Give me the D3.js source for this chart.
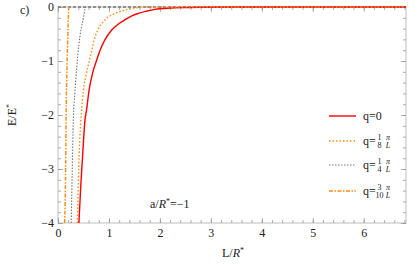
<!DOCTYPE html>
<html>
<head>
<meta charset="utf-8">
<script src="https://cdn.jsdelivr.net/npm/d3@7"></script>
<style>
  body { margin: 0; background: #fff; }
  svg text { font-family: "Liberation Serif", "DejaVu Serif", serif; }
</style>
</head>
<body>
<svg id="chart" width="415" height="271"></svg>
<script>
// L/R* range and ticks
const xMax = 6.83;
const xTicks = [0, 1, 2, 3, 4, 5, 6];
const yTicks = [0, -1, -2, -3, -4];

// q = 0 (red, solid)
const redL = [0.41, 0.45, 0.48, 0.53, 0.56, 0.61, 0.68, 0.76, 0.84, 0.92, 1.05, 1.18, 1.31, 1.44, 1.57, 1.75, 1.9, 2.2, 2.5, 2.8, 3.5, 4.5, 6.83];
const redE = [-4.0, -3.26, -2.8, -2.09, -1.91, -1.54, -1.22, -0.98, -0.77, -0.61, -0.43, -0.32, -0.24, -0.17, -0.12, -0.075, -0.045, -0.02, -0.01, -0.004, -0.001, 0, 0];

// q = 1/8 pi/L (orange, dotted)
const q8L = [0.38, 0.40, 0.43, 0.46, 0.50, 0.56, 0.62, 0.67, 0.71, 0.78, 0.92, 1.12, 1.3, 1.44, 1.6, 1.8, 6.83];
const q8E = [-4.0, -3.2, -2.4, -1.95, -1.54, -1.22, -0.98, -0.77, -0.61, -0.43, -0.24, -0.12, -0.06, -0.03, -0.01, 0, 0];

// q = 1/4 pi/L (gray, dotted)
const q4L = [0.26, 0.28, 0.30, 0.33, 0.37, 0.41, 0.45, 0.50, 0.53, 0.55];
const q4E = [-4.0, -3.0, -2.1, -1.6, -1.1, -0.7, -0.42, -0.2, -0.04, 0];

// q = 3/10 pi/L (orange, dash-dot)
const q10L = [0.13, 0.15, 0.16, 0.18, 0.20, 0.21];
const q10E = [-4.0, -3.0, -2.0, -1.0, -0.3, 0];

const legendLabels = [
  { num: null, den: null },
  { num: "1", den: "8" },
  { num: "1", den: "4" },
  { num: "3", den: "10" },
];

const svg = d3.select("#chart");
const mLeft = 58, mRight = 406, mTop = 7, mBottom = 223;
const serif = "'Liberation Serif', 'DejaVu Serif', serif";

const x = d3.scaleLinear().domain([0, xMax]).range([mLeft, mRight]);
const y = d3.scaleLinear().domain([-4, 0]).range([mBottom, mTop]);

const frameColor = "#c8c8c8";
const tickColor = "#999";

// frame
svg.append("rect")
  .attr("x", mLeft).attr("y", mTop)
  .attr("width", mRight - mLeft).attr("height", mBottom - mTop)
  .attr("fill", "none").attr("stroke", frameColor).attr("stroke-width", 1.2);

const minorX = d3.range(0, xMax, 0.2);
const minorY = d3.range(-4, 0.001, 0.2);

// helper to draw inward ticks
const drawAxis = (axis, tx, ty) => {
  const g = svg.append("g").attr("transform", `translate(${tx},${ty})`).call(axis);
  g.attr("font-family", serif);
  g.select(".domain").remove();
  g.selectAll(".tick line").attr("stroke", tickColor).attr("stroke-width", 0.8);
  g.selectAll("text").attr("font-size", 12).attr("fill", "#222");
  return g;
};

drawAxis(d3.axisBottom(x).tickValues(minorX).tickSize(-3).tickFormat(""), 0, mBottom);
drawAxis(d3.axisTop(x).tickValues(minorX).tickSize(-3).tickFormat(""), 0, mTop);
drawAxis(d3.axisLeft(y).tickValues(minorY).tickSize(-3).tickFormat(""), mLeft, 0);
drawAxis(d3.axisRight(y).tickValues(minorY).tickSize(-3).tickFormat(""), mRight, 0);

drawAxis(d3.axisBottom(x).tickValues(xTicks).tickSize(-5).tickPadding(5).tickFormat(d3.format("d")), 0, mBottom);
drawAxis(d3.axisTop(x).tickValues(xTicks).tickSize(-5).tickFormat(""), 0, mTop);
drawAxis(d3.axisLeft(y).tickValues(yTicks).tickSize(-5).tickPadding(4)
  .tickFormat(d => d === 0 ? "0" : "\u2212" + Math.abs(d)), mLeft, 0);
drawAxis(d3.axisRight(y).tickValues(yTicks).tickSize(-5).tickFormat(""), mRight, 0);

const line = d3.line().x(d => x(d[0])).y(d => y(d[1])).curve(d3.curveMonotoneX);
const toPts = (ls, es) => ls.map((l, i) => [l, es[i]]);

const plot = svg.append("g");
plot.append("clipPath").attr("id", "clip")
  .append("rect").attr("x", mLeft).attr("y", mTop - 2).attr("width", mRight - mLeft).attr("height", mBottom - mTop + 2);
const curves = plot.append("g").attr("clip-path", "url(#clip)");

// zero tails of the q>0 curves
const zeroLine = [[0, 0], [xMax, 0]];

const styles = [
  { color: "#ff0000", width: 1.4, dash: null },
  { color: "#ff8c1a", width: 1.4, dash: "1.5,2" },
  { color: "#777777", width: 1.1, dash: "1.5,1.5" },
  { color: "#ff8c1a", width: 1.5, dash: "4,1.5,1.5,1.5" },
];

curves.append("path").datum(zeroLine)
  .attr("d", d3.line().x(d => x(d[0])).y(d => y(d[1])))
  .attr("fill", "none").attr("stroke", styles[2].color)
  .attr("stroke-width", 1.3).attr("stroke-dasharray", "3,2");

const series = [toPts(redL, redE), toPts(q8L, q8E), toPts(q4L, q4E), toPts(q10L, q10E)];
series.forEach((pts, i) => {
  const s = styles[i];
  curves.append("path").datum(pts)
    .attr("d", line)
    .attr("fill", "none")
    .attr("stroke", s.color)
    .attr("stroke-width", s.width)
    .attr("stroke-dasharray", s.dash);
});

// legend
const legendY = [116, 141, 165, 191];
const txt = (g) => g.attr("font-family", serif).attr("fill", "#222");
legendY.forEach((ly, i) => {
  const s = styles[i];
  svg.append("line")
    .attr("x1", 329).attr("x2", 356).attr("y1", ly).attr("y2", ly)
    .attr("stroke", s.color).attr("stroke-width", s.width)
    .attr("stroke-dasharray", s.dash);
  const lab = legendLabels[i];
  if (lab.num === null) {
    svg.append("text").call(txt).attr("x", 363).attr("y", ly + 4)
      .attr("font-size", 12).text("q=0");
  } else {
    svg.append("text").call(txt).attr("x", 363).attr("y", ly + 4)
      .attr("font-size", 12).text("q=");
    const fx = 379.5;
    svg.append("text").call(txt).attr("x", fx).attr("y", ly - 1)
      .attr("text-anchor", "middle").attr("font-size", 8).text(lab.num);
    svg.append("text").call(txt).attr("x", fx).attr("y", ly + 7)
      .attr("text-anchor", "middle").attr("font-size", 8).text(lab.den);
    const px = 388;
    svg.append("text").call(txt).attr("x", px).attr("y", ly - 1)
      .attr("text-anchor", "middle").attr("font-size", 8).attr("font-style", "italic").text("\u03c0");
    svg.append("text").call(txt).attr("x", px).attr("y", ly + 7)
      .attr("text-anchor", "middle").attr("font-size", 8).attr("font-style", "italic").text("L");
  }
});

// annotation
const ann = svg.append("text").call(txt).attr("x", 150).attr("y", 208).attr("font-size", 12);
ann.append("tspan").text("a/");
ann.append("tspan").attr("font-style", "italic").text("R");
ann.append("tspan").attr("font-size", 8).attr("dy", -4).text("*");
ann.append("tspan").attr("dy", 4).text("=\u22121");

// axis labels
const xl = svg.append("text").call(txt).attr("x", 233).attr("y", 257).attr("text-anchor", "middle")
  .attr("font-size", 12);
xl.append("tspan").text("L/");
xl.append("tspan").attr("font-style", "italic").text("R");
xl.append("tspan").attr("font-size", 8).attr("dy", -4).text("*");

const yl = svg.append("text").call(txt).attr("transform", `translate(16,115) rotate(-90)`)
  .attr("text-anchor", "middle").attr("font-size", 12);
yl.append("tspan").text("E/E");
yl.append("tspan").attr("font-size", 8).attr("dy", -4).text("*");

svg.append("text").call(txt).attr("x", 20).attr("y", 14).attr("font-size", 12).text("c)");
</script>
</body>
</html>
